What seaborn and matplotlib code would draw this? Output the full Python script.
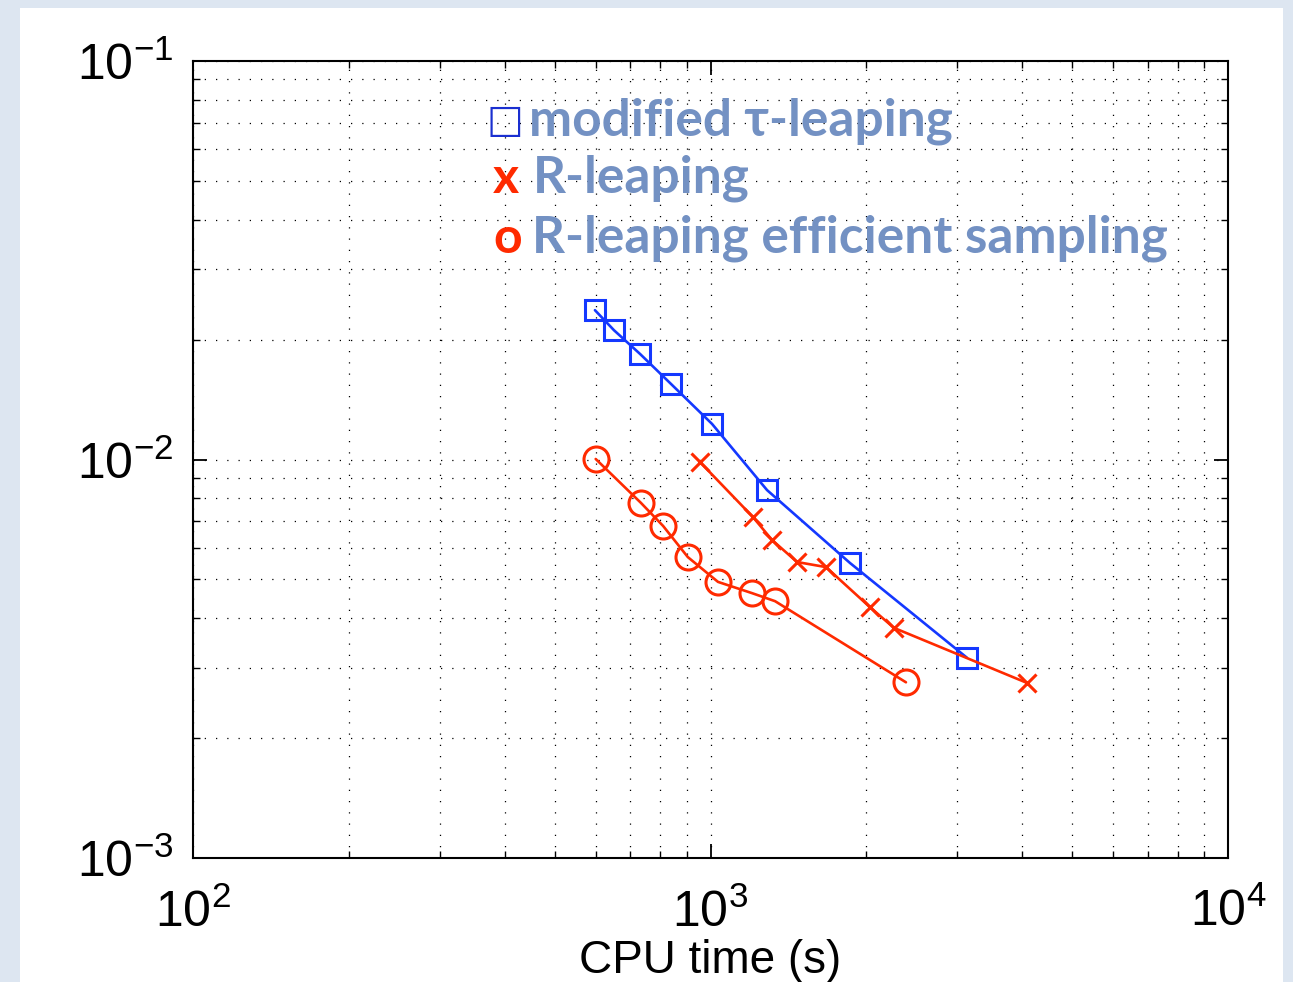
import numpy as np
import pandas as pd
import seaborn as sns
import matplotlib.pyplot as plt
from matplotlib.patches import Rectangle

# data
tau_time = [598, 651, 731, 839, 1007, 1286, 1860, 3131]
tau_err = [0.0237, 0.0211, 0.0184, 0.01547, 0.01228, 0.00838, 0.0055, 0.00318]

rleap_time = [954, 1208, 1315, 1470, 1672, 2033, 2262, 4089]
rleap_err = [0.00986, 0.00717, 0.00628, 0.00553, 0.00537, 0.00426, 0.00378, 0.00275]

eff_time = [600, 734, 810, 904, 1034, 1203, 1333, 2386]
eff_err = [0.01003, 0.00778, 0.00681, 0.00569, 0.00493, 0.00462, 0.00441, 0.00276]

labels = ["modified \u03c4-leaping", "R-leaping", "R-leaping efficient sampling"]

blue = "#1438ff"
red = "#ff2a00"
txt_col = "#7391c3"

sns.set_theme(style="white")
plt.rcParams["font.family"] = ["Liberation Sans", "DejaVu Sans"]
plt.rcParams["mathtext.fontset"] = "custom"
plt.rcParams["mathtext.rm"] = "Liberation Sans"
plt.rcParams["mathtext.it"] = "Liberation Sans"

fig = plt.figure(figsize=(12.93, 9.82), dpi=100, facecolor="#dde6f1")
# white slide panel
fig.patches.append(Rectangle((20 / 1293, 0), 1263 / 1293, 974 / 982,
                             transform=fig.transFigure, facecolor="white",
                             edgecolor="none", zorder=-10))
ax = fig.add_axes([193 / 1293, 1 - 858 / 982, 1035 / 1293, 797 / 982])
ax.set_facecolor("white")

df_tau = pd.DataFrame({"t": tau_time, "e": tau_err})
df_r = pd.DataFrame({"t": rleap_time, "e": rleap_err})
df_eff = pd.DataFrame({"t": eff_time, "e": eff_err})

sns.lineplot(data=df_tau, x="t", y="e", sort=False, ax=ax, color=blue,
             marker="s", markersize=14.5, mfc="none", mec=blue, mew=2.2,
             linewidth=1.9, zorder=3)
sns.lineplot(data=df_r, x="t", y="e", sort=False, ax=ax, color=red,
             marker="x", markersize=13, mec=red, mew=2.2,
             linewidth=1.9, zorder=3)
sns.lineplot(data=df_eff, x="t", y="e", sort=False, ax=ax, color=red,
             marker="o", markersize=18, mfc="none", mec=red, mew=2.2,
             linewidth=1.9, zorder=3)

ax.set_xscale("log")
ax.set_yscale("log")
ax.set_xlim(1e2, 1e4)
ax.set_ylim(1e-3, 1e-1)

ax.grid(True, which="both", color="black", linestyle=(0, (1, 8)), linewidth=0.9)
ax.tick_params(which="both", direction="in", top=True, right=True,
               bottom=True, left=True, labelsize=36, colors="black")
ax.tick_params(which="major", length=10, width=1.3, pad=14)
ax.tick_params(which="minor", length=5, width=1.0)
ax.tick_params(axis="x", which="major", pad=22)
for s in ax.spines.values():
    s.set_color("black")
    s.set_linewidth(1.5)

ax.set_xlabel("CPU time (s)", fontsize=33, labelpad=2, color="black")
ax.set_ylabel("")

# legend drawn as text, like the slide annotation
leg_font = ["Lato", "DejaVu Sans"]
ys = [0.925, 0.853, 0.777]
ax.text(0.284, ys[0], "\u25a1", transform=ax.transAxes, fontsize=28,
        color="#1a2fd0", va="center", ha="left", family=["DejaVu Sans"])
ax.text(0.29, ys[1], "x", transform=ax.transAxes, fontsize=36,
        color=red, va="center", ha="left", fontweight="bold", family=leg_font)
ax.text(0.29, ys[2], "o", transform=ax.transAxes, fontsize=36,
        color=red, va="center", ha="left", fontweight="bold", family=leg_font)
xs = [0.325, 0.328, 0.328]
for x0, y0, lab in zip(xs, ys, labels):
    ax.text(x0, y0, lab, transform=ax.transAxes, fontsize=37, color=txt_col,
            va="center", ha="left", fontweight="bold", family=leg_font)

fig.savefig("out.png", dpi=100, facecolor=fig.get_facecolor())
